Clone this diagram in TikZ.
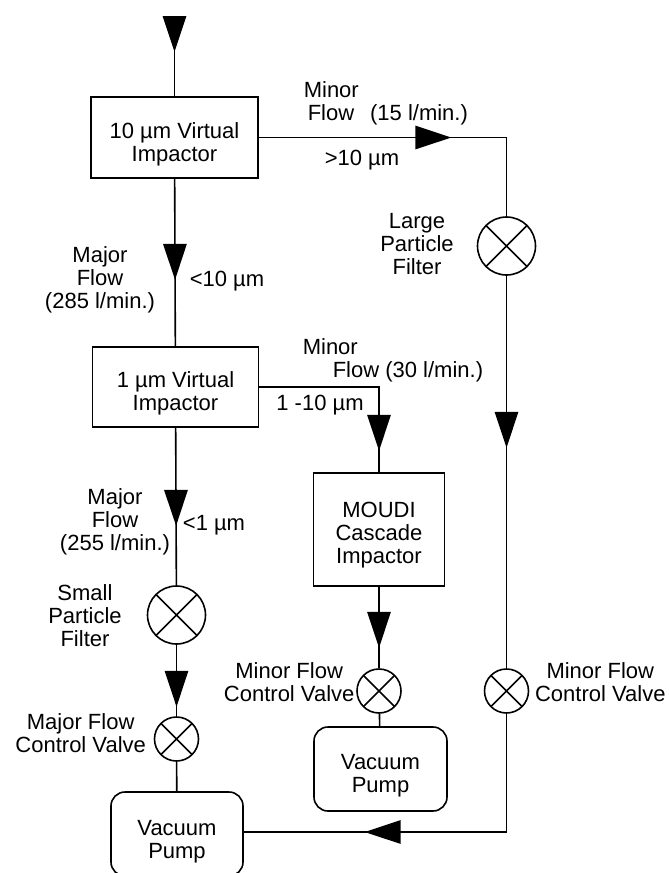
\documentclass[tikz,border=0pt]{standalone}
\usepackage{fontspec}
\setmainfont{Liberation Sans}
\usepackage{tikz}
\usetikzlibrary{arrows.meta,positioning,decorations.markings}

\tikzset{flow tip/.tip={Triangle[length=36pt,width=23.5pt]}}
\newcommand{\lowerby}[1]{\rule{0pt}{#1}}

\begin{document}
\begin{tikzpicture}[x=1pt,y=-1pt,line width=1.6pt,
                    font=\fontsize{22}{23}\selectfont,
                    main box/.style={rectangle,draw,align=center,inner sep=0pt},
                    pump node/.style={rectangle,rounded corners=14pt,draw,align=center,inner sep=0pt},
                    valve node/.style={circle,draw,inner sep=0pt,minimum size=#1,
                      path picture={\draw (path picture bounding box.north west) -- (path picture bounding box.south east)
                                          (path picture bounding box.north east) -- (path picture bounding box.south west);}},
                    tag/.style={align=center,inner sep=0pt},
                    flow at/.style={postaction={decorate},
                      decoration={markings,mark=at position #1 with {\arrow{flow tip}}}}]

  \useasboundingbox (0,0) rectangle (669,873);
  \clip (0,0) rectangle (669,873);

  \coordinate (inlet) at (174.5,16);
  \node[main box,minimum width=167pt,minimum height=81pt] (vi10) at (174.5,137.5) {\lowerby{30pt}10 µm Virtual\\Impactor};
  \node[main box,minimum width=166pt,minimum height=80pt] (vi1) [below of=vi10,node distance=249.5pt,xshift=1pt] {\lowerby{28pt}1 µm Virtual\\Impactor};
  \node[main box,minimum width=131pt,minimum height=113pt] (moudi) at (379,529.5) {\lowerby{27pt}MOUDI\\Cascade\\Impactor};

  \node[valve node=58pt] (largefilter) at (506.5,246) {};
  \node[valve node=44pt] (rightvalve) [below of=largefilter,node distance=445pt] {};
  \node[valve node=58pt] (smallfilter) at (176.5,615) {};
  \node[valve node=44pt] (majorvalve) [below of=smallfilter,node distance=124pt] {};
  \node[valve node=44pt] (minorvalve) [below of=moudi,node distance=161.5pt] {};

  \node[pump node,minimum width=132pt,minimum height=84pt] (pump1) at (177,834) {\lowerby{30pt}Vacuum\\Pump};
  \node[pump node,minimum width=133pt,minimum height=84pt] (pump2) at (380.5,769) {\lowerby{29pt}Vacuum\\Pump};

  % labels
  \node[tag,align=left,anchor=north west] (minor1) at (303,81) {Minor\\\hspace*{4pt}Flow\ \ \,(15 l/min.)};
  \node[tag] (over10) at (362,160) {>10 µm};
  \node[tag] (largetag) at (417,244) {Large\\Particle\\Filter};
  \node[tag] (major1) at (100,280) {Major\\Flow\\(285 l/min.)};
  \node[tag] (under10) at (227,281) {<10 µm};
  \node[tag,align=left,anchor=north west] (minor2) at (302,338) {Minor\\\hspace*{30pt}Flow (30 l/min.)};
  \node[tag] (band) at (320,405) {1 -10 µm};
  \node[tag] (major2) at (115,522) {Major\\Flow\\(255 l/min.)};
  \node[tag] (under1) at (214,525) {<1 µm};
  \node[tag] (smalltag) at (85,616) {Small\\Particle\\Filter};
  \node[tag] (minortag) [left=1pt of minorvalve,yshift=9pt] {Minor Flow\\Control Valve};
  \node[tag] (majortag) [left=7pt of majorvalve,yshift=6pt] {Major Flow\\Control Valve};
  \node[tag] (righttag) [right=5pt of rightvalve,yshift=9pt] {Minor Flow\\Control Valve};

  \draw[flow at=36pt] (inlet) -- (vi10);
  \draw[flow at=101pt] (vi10) -- (vi1);
  \draw[flow at=98pt] (vi1) -- (smallfilter);
  \draw[flow at=62pt] (smallfilter) -- (majorvalve);
  \draw (majorvalve) -- (pump1);
  \draw[flow at=192.5pt] (vi10.east) -| (largefilter.north);
  \draw[flow at=172pt] (largefilter) -- (rightvalve);
  \draw[flow at=260pt] (rightvalve.south) |- ([yshift=2pt]pump1.east);
  \draw[flow at=183.5pt] (vi1.east) -| (moudi.north);
  \draw[flow at=61pt] (moudi) -- (minorvalve);
  \draw (minorvalve) -- (pump2);
\end{tikzpicture}
\end{document}
